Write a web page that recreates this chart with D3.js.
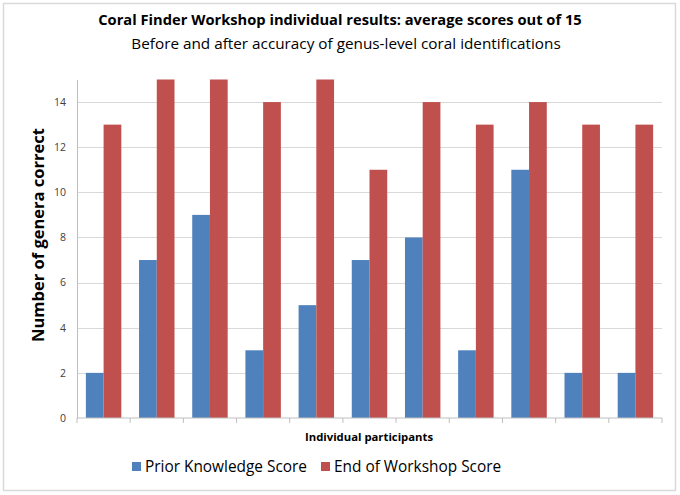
<!DOCTYPE html>
<meta charset="utf-8">
<style>
body {
    margin: 0;
    padding: 0;
    background: #fff;
}
text {
    font-family: 'Open Sans', 'Liberation Sans', sans-serif;
}
</style>
<body>
<svg width="680" height="495"></svg>
<script src="https://d3js.org/d3.v7.min.js"></script>
<script>
// chart values
var participants = ["1", "2", "3", "4", "5", "6", "7", "8", "9", "10", "11"];
var priorScores = [2, 7, 9, 3, 5, 7, 8, 3, 11, 2, 2];
var endScores = [13, 15, 15, 14, 15, 11, 14, 13, 14, 13, 13];
var seriesNames = ["Prior Knowledge Score", "End of Workshop Score"];
var seriesColors = ["#4f81bd", "#c0504d"];
var yTicks = [0, 2, 4, 6, 8, 10, 12, 14];

var svg = d3.select("svg");

var plot = {left: 77, right: 662, top: 79.5, bottom: 418};

// outer frame
svg.append("rect")
    .attr("x", 3.5).attr("y", 3.5)
    .attr("width", 672).attr("height", 487)
    .attr("fill", "#fff")
    .attr("stroke", "#d9d9d9")
    .attr("stroke-width", 1.5);

var x = d3.scaleBand()
    .domain(participants)
    .range([plot.left, plot.right])
    .paddingInner(0)
    .paddingOuter(0);

// two bars per participant, gap on both sides
var xInner = d3.scaleBand()
    .domain([0, 1])
    .range([0, x.bandwidth()])
    .paddingInner(0)
    .paddingOuter(0.5);

var y = d3.scaleLinear()
    .domain([0, 15])
    .range([plot.bottom, plot.top]);

// gridlines
svg.append("g")
    .selectAll("line")
    .data(yTicks.filter(function(d) { return d > 0; }))
    .enter().append("line")
    .attr("x1", plot.left).attr("x2", plot.right)
    .attr("y1", function(d) { return Math.round(y(d)) + 0.5; })
    .attr("y2", function(d) { return Math.round(y(d)) + 0.5; })
    .attr("stroke", "#d9d9d9")
    .attr("stroke-width", 1);

// y axis
var yAxis = svg.append("g")
    .attr("transform", "translate(" + plot.left + ",0)")
    .call(d3.axisLeft(y).tickValues(yTicks).tickSize(0).tickPadding(11));
yAxis.select(".domain").attr("stroke", "#bfbfbf");
yAxis.selectAll("text")
    .attr("fill", "#404040")
    .style("font-size", "10.5px");

// bars
var data = participants.map(function(p, i) {
    return {p: p, values: [priorScores[i], endScores[i]]};
});

var groups = svg.append("g")
    .selectAll("g")
    .data(data)
    .enter().append("g")
    .attr("transform", function(d) { return "translate(" + x(d.p) + ",0)"; });

groups.selectAll("rect")
    .data(function(d) { return d.values.map(function(v, k) { return {k: k, v: v}; }); })
    .enter().append("rect")
    .attr("x", function(d) { return xInner(d.k); })
    .attr("width", xInner.bandwidth())
    .attr("y", function(d) { return y(d.v); })
    .attr("height", function(d) { return y(0) - y(d.v); })
    .attr("fill", function(d) { return seriesColors[d.k]; });

// x axis with tick marks between groups, no labels
var xAxis = svg.append("g")
    .attr("transform", "translate(0," + plot.bottom + ")");
xAxis.append("line")
    .attr("x1", plot.left).attr("x2", plot.right)
    .attr("stroke", "#bfbfbf");
xAxis.selectAll(".tick")
    .data(participants.concat(["end"]))
    .enter().append("line")
    .attr("x1", function(d, i) { return plot.left + i * x.step(); })
    .attr("x2", function(d, i) { return plot.left + i * x.step(); })
    .attr("y1", 0).attr("y2", 5)
    .attr("stroke", "#bfbfbf");

// titles
svg.append("text")
    .attr("x", 340).attr("y", 25)
    .attr("text-anchor", "middle")
    .style("font-size", "14.7px")
    .style("font-weight", "bold")
    .attr("fill", "#000")
    .text("Coral Finder Workshop individual results: average scores out of 15");

svg.append("text")
    .attr("x", 346).attr("y", 49)
    .attr("text-anchor", "middle")
    .style("font-size", "15.3px")
    .attr("fill", "#000")
    .text("Before and after accuracy of genus-level coral identifications");

// axis titles
svg.append("text")
    .attr("transform", "translate(44,235) rotate(-90)")
    .attr("text-anchor", "middle")
    .style("font-size", "16.5px")
    .style("font-weight", "bold")
    .attr("fill", "#000")
    .text("Number of genera correct");

svg.append("text")
    .attr("x", 369).attr("y", 441)
    .attr("text-anchor", "middle")
    .style("font-size", "11.3px")
    .style("font-weight", "bold")
    .attr("fill", "#000")
    .text("Individual participants");

// legend
var legendX = [132, 321];
var legend = svg.append("g")
    .selectAll("g")
    .data(seriesNames)
    .enter().append("g")
    .attr("transform", function(d, i) { return "translate(" + legendX[i] + ",462)"; });

legend.append("rect")
    .attr("width", 9).attr("height", 9)
    .attr("fill", function(d, i) { return seriesColors[i]; });

legend.append("text")
    .attr("x", 13).attr("y", 9.5)
    .style("font-size", "15.4px")
    .attr("fill", "#000")
    .text(function(d) { return d; });
</script>
</body>
